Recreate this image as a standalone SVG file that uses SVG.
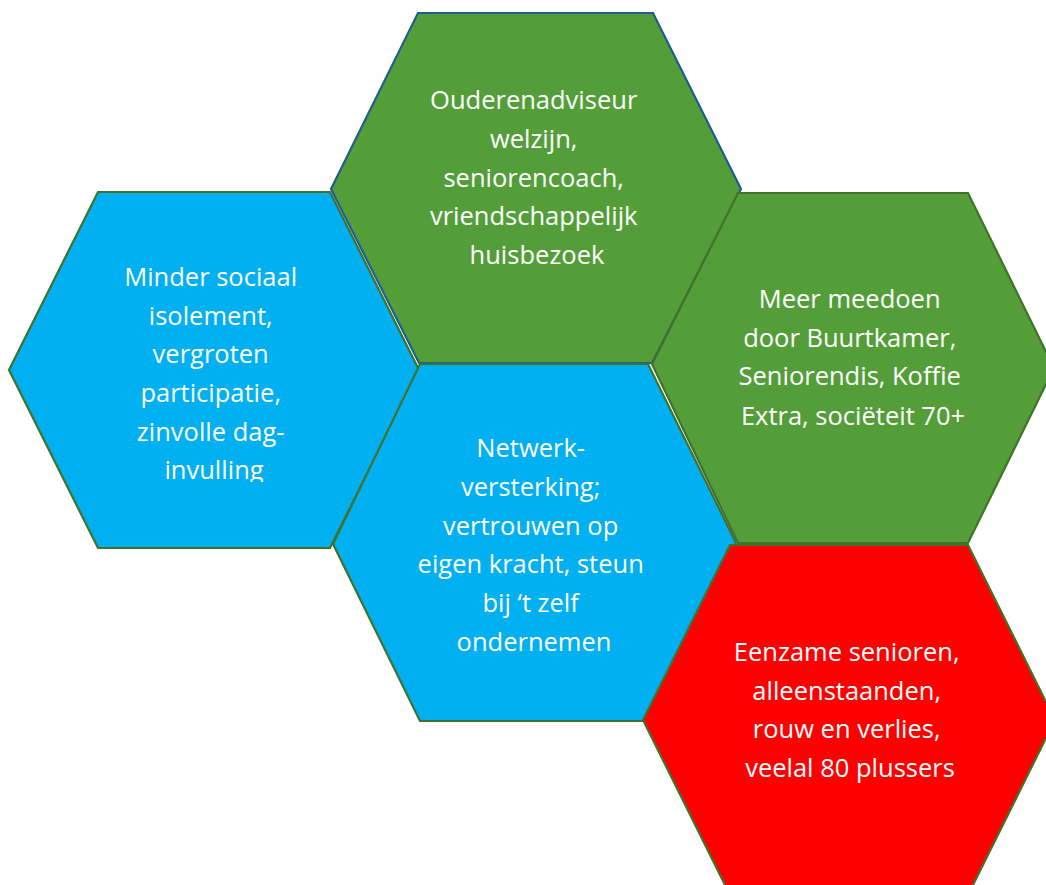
<svg xmlns="http://www.w3.org/2000/svg" width="1046" height="885" viewBox="0 0 1046 885">
  <defs>
    <style>
      .hex { stroke-width: 2.2; stroke-linejoin: miter; }
      .green { fill: #549E39; stroke: #41722C; }
      .blue { fill: #00B0F0; stroke: #41722C; }
      .red { fill: #FF0000; stroke: #41722C; }
      .edge-blue { stroke: #1F5E8E; }
      .label { font-family: "Open Sans", "Noto Sans", "Liberation Sans", sans-serif; font-size: 25.5px; fill: #FFFFFF; text-anchor: middle; }
    </style>
    <!-- the last line of the left cell is cut off by its text frame -->
    <clipPath id="leftTextFrame">
      <rect x="0" y="240" width="420" height="242"/>
    </clipPath>
  </defs>
  <rect width="1046" height="885" fill="#FFFFFF"/>

  <g id="hex-left">
    <polygon class="hex blue" points="9,370 98,192 330,192 419,370 330,548 98,548"/>
    <text class="label" clip-path="url(#leftTextFrame)">
      <tspan x="214" y="286">Minder sociaal</tspan>
      <tspan x="214" y="325">isolement,</tspan>
      <tspan x="214" y="363">vergroten</tspan>
      <tspan x="214" y="402">participatie,</tspan>
      <tspan x="214" y="441">zinvolle dag-</tspan>
      <tspan x="214" y="479">invulling</tspan>
    </text>
  </g>

  <g id="hex-top">
    <polygon class="hex green edge-blue" points="331,189 418,13 653,13 741,189 652,363 419,363"/>
    <text class="label">
      <tspan x="537" y="109">Ouderenadviseur</tspan>
      <tspan x="537" y="148">welzijn,</tspan>
      <tspan x="537" y="187">seniorencoach,</tspan>
      <tspan x="537" y="225">vriendschappelijk</tspan>
      <tspan x="537" y="264">huisbezoek</tspan>
    </text>
  </g>

  <g id="hex-center">
    <polygon class="hex blue" points="333,544 420,364 648,364 736,543 644,721 420,721"/>
    <text class="label">
      <tspan x="534" y="457">Netwerk-</tspan>
      <tspan x="534" y="496">versterking;</tspan>
      <tspan x="534" y="535">vertrouwen op</tspan>
      <tspan x="534" y="573">eigen kracht, steun</tspan>
      <tspan x="534" y="612">bij ‘t zelf</tspan>
      <tspan x="534" y="651">ondernemen</tspan>
    </text>
  </g>

  <g id="hex-right">
    <polygon class="hex green" points="652,364 738,193 968,193 1054,368 968,543 738,543"/>
    <text class="label">
      <tspan x="853" y="308">Meer meedoen</tspan>
      <tspan x="853" y="347">door Buurtkamer,</tspan>
      <tspan x="853" y="385">Seniorendis, Koffie</tspan>
      <tspan x="853" y="425">Extra, sociëteit 70+</tspan>
    </text>
  </g>

  <g id="hex-bottom">
    <polygon class="hex red" points="643,720 730,545 968,545 1055,720 968,895 730,895"/>
    <text class="label">
      <tspan x="850" y="661">Eenzame senioren,</tspan>
      <tspan x="850" y="700">alleenstaanden,</tspan>
      <tspan x="850" y="738">rouw en verlies,</tspan>
      <tspan x="850" y="777">veelal 80 plussers</tspan>
    </text>
  </g>

  <!-- cells touch edge to edge; there are no connecting lines -->
  <g id="connectors"/>
</svg>
